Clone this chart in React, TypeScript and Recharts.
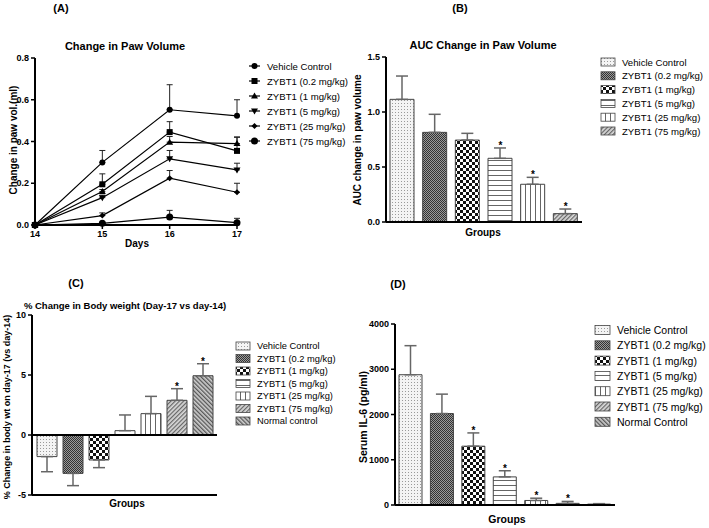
import { LineChart, Line, XAxis, YAxis, ErrorBar, ComposedChart, Bar, Cell, ReferenceLine, Scatter } from "recharts"

const FONT = '"Liberation Sans", Arial, sans-serif'

// ---- panel A: change in paw volume ----
const days = [14, 15, 16, 17]
const pawNames = ["Vehicle Control", "ZYBT1 (0.2 mg/kg)", "ZYBT1 (1 mg/kg)", "ZYBT1 (5 mg/kg)", "ZYBT1 (25 mg/kg)", "ZYBT1 (75 mg/kg)"]
const pawMarkers = ["circle", "square", "tri", "itri", "diamond", "bigcircle"]
const pawVehicle = [0, 0.3, 0.552, 0.523]
const pawVehicleErr = [0, 0.057, 0.12, 0.077]
const paw02 = [0, 0.195, 0.445, 0.355]
const paw02Err = [0, 0.05, 0.05, 0.067]
const paw1 = [0, 0.16, 0.397, 0.39]
const paw1Err = [0, 0.01, 0.027, 0.03]
const paw5 = [0, 0.131, 0.317, 0.264]
const paw5Err = [0, 0.012, 0.04, 0.032]
const paw25 = [0, 0.045, 0.224, 0.157]
const paw25Err = [0, 0.013, 0.037, 0.043]
const paw75 = [0, 0.008, 0.038, 0.011]
const paw75Err = [0, 0.004, 0.032, 0.021]

// ---- panel B: AUC ----
const aucGroups = ["Vehicle Control", "ZYBT1 (0.2 mg/kg)", "ZYBT1 (1 mg/kg)", "ZYBT1 (5 mg/kg)", "ZYBT1 (25 mg/kg)", "ZYBT1 (75 mg/kg)"]
const aucValues = [1.115, 0.815, 0.745, 0.579, 0.343, 0.076]
const aucErr = [0.212, 0.164, 0.061, 0.094, 0.063, 0.042]
const aucStars = [false, false, false, true, true, true]

// ---- panel C: body weight ----
const bwGroups = ["Vehicle Control", "ZYBT1 (0.2 mg/kg)", "ZYBT1 (1 mg/kg)", "ZYBT1 (5 mg/kg)", "ZYBT1 (25 mg/kg)", "ZYBT1 (75 mg/kg)", "Normal control"]
const bwValues = [-1.8, -3.2, -2.08, 0.36, 1.78, 2.89, 4.94]
const bwErr = [1.26, 1.02, 0.64, 1.31, 1.44, 0.97, 1.0]
const bwStars = [false, false, false, false, false, true, true]

// ---- panel D: serum IL-6 ----
const il6Groups = ["Vehicle Control", "ZYBT1 (0.2 mg/kg)", "ZYBT1 (1 mg/kg)", "ZYBT1 (5 mg/kg)", "ZYBT1 (25 mg/kg)", "ZYBT1 (75 mg/kg)", "Normal Control"]
const il6Values = [2879, 2021, 1300, 621, 100, 36, 20]
const il6Err = [642, 429, 293, 136, 50, 43, 10]
const il6Stars = [false, false, true, true, true, true, false]

const fills = ["url(#pDots)", "url(#pFine)", "url(#pCheck)", "url(#pHoriz)", "url(#pVert)", "url(#pDiag)", "url(#pDiag2)"]

const pawSeries = [
  [pawVehicle, pawVehicleErr],
  [paw02, paw02Err],
  [paw1, paw1Err],
  [paw5, paw5Err],
  [paw25, paw25Err],
  [paw75, paw75Err],
]

const pawData = days.map((d, i) => {
  const row: any = { day: d }
  pawSeries.forEach(([v, e], k) => {
    row["s" + k] = v[i]
    row["e" + k] = [0, e[i]]
  })
  return row
})

function barRows(groups: string[], values: number[], errs: number[], stars: boolean[]) {
  return groups.map((g, i) => ({
    group: g,
    value: values[i],
    err: values[i] < 0 ? [errs[i], 0] : [0, errs[i]],
    star: stars[i] ? values[i] + (values[i] < 0 ? 0 : errs[i]) : null,
  }))
}

const aucData = barRows(aucGroups, aucValues, aucErr, aucStars)
const bwData = barRows(bwGroups, bwValues, bwErr, bwStars)
const il6Data = barRows(il6Groups, il6Values, il6Err, il6Stars)

function Marker({ kind, cx, cy }: { kind: string; cx: number; cy: number }) {
  switch (kind) {
    case "square":
      return <rect x={cx - 3} y={cy - 3} width={6} height={6} fill="#000" />
    case "tri":
      return <path d={`M${cx},${cy - 3.5}L${cx + 3.5},${cy + 2.5}L${cx - 3.5},${cy + 2.5}Z`} fill="#000" />
    case "itri":
      return <path d={`M${cx},${cy + 3.5}L${cx + 3.5},${cy - 2.5}L${cx - 3.5},${cy - 2.5}Z`} fill="#000" />
    case "diamond":
      return <path d={`M${cx},${cy - 3}L${cx + 3},${cy}L${cx},${cy + 3}L${cx - 3},${cy}Z`} fill="#000" />
    case "bigcircle":
      return <circle cx={cx} cy={cy} r={3.5} fill="#000" />
    default:
      return <circle cx={cx} cy={cy} r={3} fill="#000" />
  }
}

const dotFor = (kind: string) => (props: any) => {
  const { cx, cy, index } = props
  if (cx == null || cy == null) return <g key={index} />
  return (
    <g key={index}>
      <Marker kind={kind} cx={cx} cy={cy} />
    </g>
  )
}

// asterisk drawn just above the error-bar cap
const starShape = (props: any) => {
  const { cx, cy, payload } = props
  if (!payload || payload.star == null || cx == null || cy == null || isNaN(cy)) return <g />
  return (
    <g>
      <text x={cx} y={cy + 1} textAnchor="middle" fontSize={10} fontWeight="bold" fontFamily={FONT} fill="#000" stroke="none">
        *
      </text>
    </g>
  )
}

const tickStyle = { fontSize: 9, fontWeight: "bold", fill: "#000", fontFamily: FONT }
const axisLine = { stroke: "#000", strokeWidth: 2 }
const tickLine = { stroke: "#000", strokeWidth: 1.5 }

function Txt({ x, y, children, size = 10, bold = true, rotate = false, anchor = "middle" }: any) {
  return (
    <text
      x={x}
      y={y}
      fontSize={size}
      fontWeight={bold ? "bold" : "normal"}
      fontFamily={FONT}
      textAnchor={anchor}
      dominantBaseline="central"
      fill="#000"
      transform={rotate ? `rotate(-90 ${x} ${y})` : undefined}
    >
      {children}
    </text>
  )
}

function BarLegend({ names, x, y0, step, size, sw, sh }: any) {
  return (
    <g>
      {names.map((n: string, i: number) => (
        <g key={n}>
          <rect x={x} y={y0 + i * step - sh / 2} width={sw} height={sh} fill={fills[i]} stroke="#444" strokeWidth={0.8} />
          <Txt x={x + sw + 7} y={y0 + i * step} size={size} bold={false} anchor="start">
            {n}
          </Txt>
        </g>
      ))}
    </g>
  )
}

function Overlay() {
  return (
    <svg width={709} height={528} style={{ position: "absolute", left: 0, top: 0, pointerEvents: "none" }}>
      <defs>
        <pattern id="pDots" width="3" height="3" patternUnits="userSpaceOnUse">
          <rect width="3" height="3" fill="#f4f4f4" />
          <rect x="1" y="1" width="1" height="1" fill="#9a9a9a" />
        </pattern>
        <pattern id="pFine" width="2" height="2" patternUnits="userSpaceOnUse">
          <rect width="2" height="2" fill="#9a9a9a" />
          <rect x="0" y="0" width="1" height="1" fill="#333" />
          <rect x="1" y="1" width="1" height="1" fill="#333" />
        </pattern>
        <pattern id="pCheck" width="6" height="6" patternUnits="userSpaceOnUse">
          <rect width="6" height="6" fill="#fff" />
          <rect x="0" y="0" width="3" height="3" fill="#111" />
          <rect x="3" y="3" width="3" height="3" fill="#111" />
        </pattern>
        <pattern id="pHoriz" width="5" height="5" patternUnits="userSpaceOnUse">
          <rect width="5" height="5" fill="#fff" />
          <rect x="0" y="0" width="5" height="1" fill="#666" />
        </pattern>
        <pattern id="pVert" width="5" height="5" patternUnits="userSpaceOnUse">
          <rect width="5" height="5" fill="#fff" />
          <rect x="0" y="0" width="1" height="5" fill="#666" />
        </pattern>
        <pattern id="pDiag" width="3" height="3" patternUnits="userSpaceOnUse" patternTransform="rotate(45)">
          <rect width="3" height="3" fill="#d8d8d8" />
          <rect x="0" y="0" width="1.2" height="3" fill="#666" />
        </pattern>
        <pattern id="pDiag2" width="3" height="3" patternUnits="userSpaceOnUse" patternTransform="rotate(-45)">
          <rect width="3" height="3" fill="#cfcfcf" />
          <rect x="0" y="0" width="1.3" height="3" fill="#555" />
        </pattern>
      </defs>

      {/* panel A */}
      <Txt x={61} y={8} size={11}>(A)</Txt>
      <Txt x={125} y={46} size={11}>Change in Paw Volume</Txt>
      <Txt x={13} y={140} size={10} rotate>Change in paw vol.(ml)</Txt>
      <Txt x={137} y={243} size={10}>Days</Txt>
      {pawNames.map((n, i) => (
        <g key={n}>
          <line x1={249} x2={260} y1={66 + i * 15} y2={66 + i * 15} stroke="#000" strokeWidth={1.2} />
          <Marker kind={pawMarkers[i]} cx={254.5} cy={66 + i * 15} />
          <Txt x={267} y={66 + i * 15} size={9.6} bold={false} anchor="start">{n}</Txt>
        </g>
      ))}

      {/* panel B */}
      <Txt x={460} y={8} size={11}>(B)</Txt>
      <Txt x={483} y={45} size={11}>AUC Change in Paw Volume</Txt>
      <Txt x={357} y={140} size={10} rotate>AUC change in paw volume</Txt>
      <Txt x={483} y={232} size={10}>Groups</Txt>
      <BarLegend names={aucGroups} x={601} y0={62} step={13.8} size={9.6} sw={14} sh={8} />

      {/* panel C */}
      <Txt x={76} y={283} size={11}>(C)</Txt>
      <Txt x={125} y={305} size={9.5}>% Change in Body weight (Day-17 vs day-14)</Txt>
      <Txt x={7} y={407} size={9} rotate>% Change in body wt on day-17 (vs day-14)</Txt>
      <Txt x={127} y={503} size={10}>Groups</Txt>
      <BarLegend names={bwGroups} x={236} y0={346} step={12.5} size={9.3} sw={14} sh={8} />

      {/* panel D */}
      <Txt x={398} y={284} size={11}>(D)</Txt>
      <Txt x={363} y={417} size={10.5} rotate>Serum IL-6 (pg/ml)</Txt>
      <Txt x={507} y={519} size={10.5}>Groups</Txt>
      <BarLegend names={il6Groups} x={595} y0={330} step={15.3} size={10.5} sw={15} sh={9} />
    </svg>
  )
}

function BarPanel({ data, left, top, width, height, margin, yWidth, domain, ticks, fmt, barSize, pad, zeroLine }: any) {
  return (
    <div style={{ position: "absolute", left, top }}>
      <ComposedChart width={width} height={height} data={data} margin={margin}>
        <XAxis dataKey="group" tick={false} tickLine={false} axisLine={axisLine} height={10} padding={pad} />
        <YAxis
          type="number"
          domain={domain}
          ticks={ticks}
          width={yWidth}
          tick={tickStyle}
          tickFormatter={fmt}
          tickLine={tickLine}
          tickSize={4}
          axisLine={axisLine}
          interval={0}
        />
        <Bar dataKey="value" barSize={barSize} stroke="#444" strokeWidth={1} isAnimationActive={false}>
          {data.map((_: any, i: number) => (
            <Cell key={i} fill={fills[i]} />
          ))}
          <ErrorBar dataKey="err" direction="y" width={6} stroke="#666" strokeWidth={1.5} />
        </Bar>
        {zeroLine && <ReferenceLine y={0} stroke="#000" strokeWidth={2} />}
        <Scatter dataKey="star" shape={starShape} isAnimationActive={false} legendType="none" />
      </ComposedChart>
    </div>
  )
}

export default function App() {
  return (
    <div style={{ position: "absolute", left: 0, top: 0, width: 709, height: 528, background: "#fff", overflow: "hidden" }}>
      <div style={{ position: "absolute", left: 0, top: 0 }}>
        <LineChart width={250} height={260} data={pawData} margin={{ top: 58, right: 13, left: 10, bottom: 15 }}>
          <XAxis
            dataKey="day"
            type="number"
            domain={[14, 17]}
            ticks={days}
            height={20}
            tick={tickStyle}
            tickLine={tickLine}
            tickSize={4}
            axisLine={axisLine}
          />
          <YAxis
            type="number"
            domain={[0, 0.8]}
            ticks={[0, 0.2, 0.4, 0.6, 0.8]}
            tickFormatter={(v: number) => v.toFixed(1)}
            width={25}
            tick={tickStyle}
            tickLine={tickLine}
            tickSize={4}
            axisLine={axisLine}
          />
          {pawSeries.map((_, k) => (
            <Line
              key={k}
              dataKey={"s" + k}
              stroke="#000"
              strokeWidth={1.2}
              dot={dotFor(pawMarkers[k])}
              activeDot={false}
              isAnimationActive={false}
            >
              <ErrorBar dataKey={"e" + k} direction="y" width={3} stroke="#222" strokeWidth={1} />
            </Line>
          ))}
        </LineChart>
      </div>

      <BarPanel
        data={aucData}
        left={340}
        top={0}
        width={260}
        height={260}
        margin={{ top: 57, right: 18, left: 16, bottom: 28 }}
        yWidth={30}
        domain={[0, 1.5]}
        ticks={[0, 0.5, 1, 1.5]}
        fmt={(v: number) => v.toFixed(1)}
        barSize={24}
        pad={{ left: 0, right: 0 }}
      />

      <BarPanel
        data={bwData}
        left={0}
        top={270}
        width={230}
        height={250}
        margin={{ top: 45, right: 13, left: 7, bottom: 15 }}
        yWidth={25}
        domain={[-5, 10]}
        ticks={[-5, 0, 5, 10]}
        fmt={(v: number) => String(v)}
        barSize={20}
        pad={{ left: 2, right: 1 }}
        zeroLine
      />

      <BarPanel
        data={il6Data}
        left={350}
        top={270}
        width={275}
        height={258}
        margin={{ top: 54, right: 10, left: 5, bottom: 13 }}
        yWidth={40}
        domain={[0, 4000]}
        ticks={[0, 1000, 2000, 3000, 4000]}
        fmt={(v: number) => String(v)}
        barSize={23}
        pad={{ left: 0, right: 0 }}
      />

      <Overlay />
    </div>
  )
}
